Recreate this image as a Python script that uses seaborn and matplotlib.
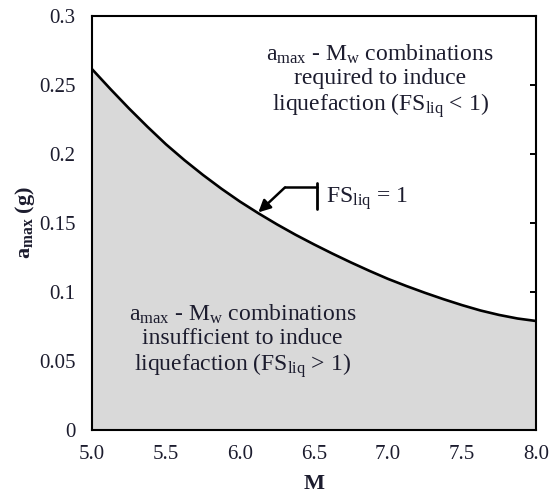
import matplotlib
matplotlib.use("Agg")
import matplotlib.pyplot as plt
import seaborn as sns
import pandas as pd

# ---- data ----
magnitude = [5.0, 5.125, 5.25, 5.375, 5.5, 5.625, 5.75, 5.875, 6.0, 6.125, 6.25, 6.375, 6.5,
             6.625, 6.75, 6.875, 7.0, 7.125, 7.25, 7.375, 7.5, 7.625, 7.75, 7.875, 8.0]
amax_fs1 = [0.2615, 0.247, 0.233, 0.2197, 0.207, 0.1955, 0.1848, 0.1748, 0.1655, 0.157, 0.149,
            0.1415, 0.1345, 0.1278, 0.1214, 0.1153, 0.1095, 0.1043, 0.0994, 0.0948, 0.0905,
            0.0866, 0.0834, 0.0808, 0.079]
x_ticks = [5.0, 5.5, 6.0, 6.5, 7.0, 7.5, 8.0]
x_tick_labels = ["5.0", "5.5", "6.0", "6.5", "7.0", "7.5", "8.0"]
y_ticks = [0, 0.05, 0.1, 0.15, 0.2, 0.25, 0.3]
y_tick_labels = ["0", "0.05", "0.1", "0.15", "0.2", "0.25", "0.3"]

df = pd.DataFrame({"M": magnitude, "amax": amax_fs1})

sns.set_style("ticks")
plt.rcParams["font.family"] = ["Liberation Serif", "DejaVu Serif"]
plt.rcParams["mathtext.fontset"] = "custom"
plt.rcParams["mathtext.rm"] = "Liberation Serif"
plt.rcParams["mathtext.it"] = "Liberation Serif:italic"
plt.rcParams["mathtext.bf"] = "Liberation Serif:bold"

txt = "#1c1c2e"

fig = plt.figure(figsize=(5.5, 4.95), dpi=100)
ax = fig.add_axes([0.1673, 0.1313, 0.8072, 0.8364])

ax.fill_between(df["M"], 0, df["amax"], color="#d9d9d9", lw=0, zorder=1)
sns.lineplot(data=df, x="M", y="amax", color="black", lw=1.9, ax=ax, zorder=3)

ax.set_xlim(5.0, 8.0)
ax.set_ylim(0, 0.3)
ax.set_xticks(x_ticks)
ax.set_xticklabels(x_tick_labels)
ax.set_yticks(y_ticks)
ax.set_yticklabels(y_tick_labels)

ax.tick_params(axis="both", direction="in", length=4.5, width=1.4,
               labelsize=15, labelcolor=txt, color="black")
ax.tick_params(axis="y", right=True, pad=12)
ax.tick_params(axis="x", top=False, pad=11)
for s in ax.spines.values():
    s.set_visible(True)
    s.set_linewidth(1.5)
    s.set_color("black")

ax.set_xlabel("M", fontsize=16, fontweight="bold", color=txt, labelpad=7)
ax.set_ylabel(r"$\mathbf{a}_{\mathbf{max}}$ (g)", fontsize=16, fontweight="bold",
              color=txt, labelpad=1)

fs = 17
ax.text(6.946, 0.2525,
        "a$_{\\mathrm{max}}$ - M$_{\\mathrm{w}}$ combinations\nrequired to induce\nliquefaction (FS$_{\\mathrm{liq}}$ < 1)",
        ha="center", va="center", fontsize=fs, color=txt, linespacing=1.12, zorder=4)
ax.text(6.017, 0.0645,
        "a$_{\\mathrm{max}}$ - M$_{\\mathrm{w}}$ combinations\ninsufficient to induce\nliquefaction (FS$_{\\mathrm{liq}}$ > 1)",
        ha="center", va="center", fontsize=fs, color=txt, linespacing=1.12, zorder=4)

ax.text(6.58, 0.1675, "FS$_{\\mathrm{liq}}$ = 1", ha="left", va="center",
        fontsize=fs, color=txt, zorder=4)
ax.plot([6.523, 6.523], [0.160, 0.1787], color="black", lw=2, zorder=4)
ax.plot([6.304, 6.523], [0.1758, 0.1758], color="black", lw=1.8, zorder=4)
ax.annotate("", xy=(6.124, 0.1577), xytext=(6.304, 0.1758),
            arrowprops=dict(arrowstyle="-|>", lw=1.8, color="black",
                            mutation_scale=18, shrinkA=0, shrinkB=0), zorder=4)

fig.savefig("out.png", dpi=100)
